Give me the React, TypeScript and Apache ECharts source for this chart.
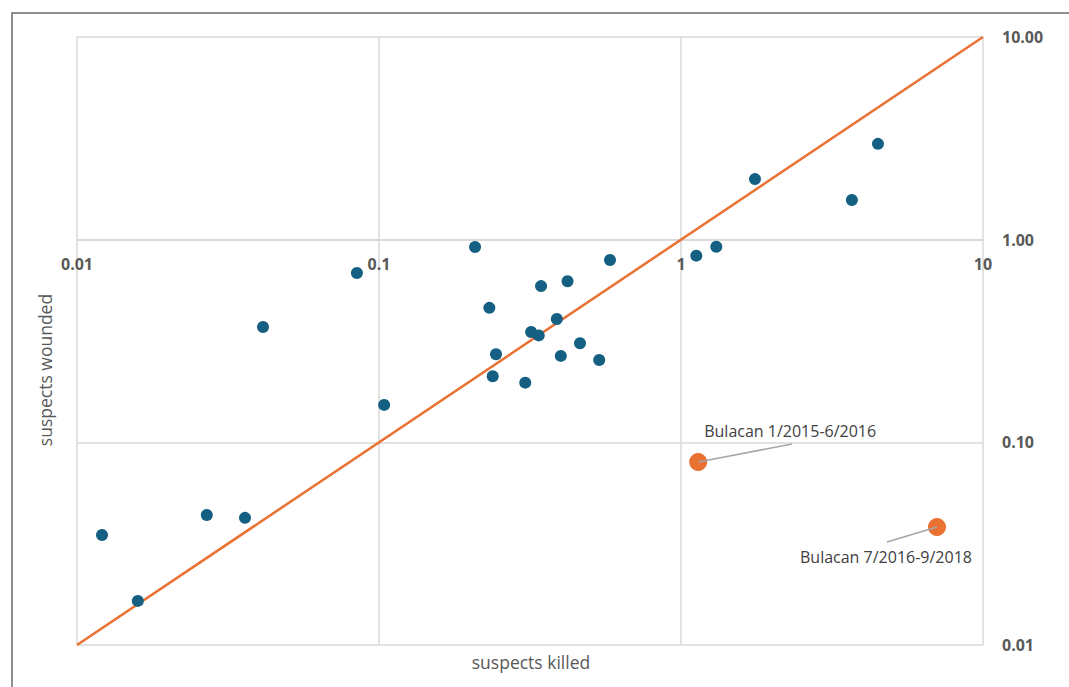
import React, { useEffect, useRef } from "react";
import * as echarts from "echarts";

// Suspects killed vs. wounded per 1,000 police operations (log–log)
const killed: number[] = [
  0.0121, 0.0159, 0.0269, 0.036, 0.0413, 0.0845, 0.104, 0.208, 0.232, 0.344,
  0.421, 0.582, 0.388, 0.319, 0.338, 0.463, 0.244, 0.4, 0.536, 0.238, 0.305,
  1.124, 1.309, 1.758, 3.68, 4.49,
];
const wounded: number[] = [
  0.0349, 0.0165, 0.0438, 0.0424, 0.371, 0.685, 0.153, 0.92, 0.461, 0.59,
  0.623, 0.794, 0.406, 0.35, 0.337, 0.308, 0.272, 0.267, 0.255, 0.212, 0.197,
  0.834, 0.923, 1.99, 1.57, 2.97,
];

const bulacanNames: string[] = ["Bulacan 1/2015-6/2016", "Bulacan 7/2016-9/2018"];
const bulacanKilled: number[] = [1.14, 7.04];
const bulacanWounded: number[] = [0.08, 0.0382];

// Parity line y = x
const parity: number[] = [0.01, 10];

const xTickLabels: string[] = ["0.01", "0.1", "1", "10"];
const yTickLabels: string[] = ["0.01", "0.10", "1.00", "10.00"];

const GRAY_TEXT = "#595959";
const GRID = "#d9d9d9";
const BLUE = "#156082";
const ORANGE = "#E97132";

// Call-out label offsets (px) from their points, and leader-line end offsets
const calloutOffsets: [number, number][] = [
  [92, -31],
  [-51, 30],
];
const leaderEnds: [number, number][] = [
  [94, -18],
  [-50, 15],
];

function tickText(list: string[], v: number): string {
  const e = Math.round(Math.log10(v)) + 2;
  return list[e] ?? "";
}

export default function App() {
  const ref = useRef<HTMLDivElement>(null);

  useEffect(() => {
    if (!ref.current) return;
    const chart = echarts.init(ref.current, undefined, { renderer: "svg" });

    const font = "'Open Sans', 'Noto Sans', sans-serif";

    const frameAndTitles: any[] = [
      {
        type: "polyline",
        silent: true,
        shape: {
          points: [
            [12, 687],
            [12, 13],
            [1069, 13],
          ],
        },
        style: { stroke: "#6b6b6b", lineWidth: 1.5, fill: "none" },
      },
      {
        type: "text",
        x: 531,
        y: 662,
        style: {
          text: "suspects killed",
          fill: GRAY_TEXT,
          font: `17.5px ${font}`,
          align: "center",
          verticalAlign: "middle",
        },
      },
      {
        type: "text",
        x: 45,
        y: 370,
        rotation: Math.PI / 2,
        style: {
          text: "suspects wounded",
          fill: GRAY_TEXT,
          font: `17.5px ${font}`,
          align: "center",
          verticalAlign: "middle",
        },
      },
    ];

    chart.setOption({
      animation: false,
      backgroundColor: "#ffffff",
      textStyle: { fontFamily: font },
      grid: { left: 77, right: 86, top: 37, bottom: 42, containLabel: false },
      xAxis: {
        type: "log",
        logBase: 10,
        min: 0.01,
        max: 10,
        position: "bottom",
        offset: -405,
        axisLine: { show: true, lineStyle: { color: GRID, width: 1.5 } },
        axisTick: { show: false },
        axisLabel: {
          margin: 16,
          color: GRAY_TEXT,
          fontWeight: "bold",
          fontSize: 16,
          fontFamily: font,
          formatter: (v: number) => tickText(xTickLabels, v),
        },
        splitLine: { show: true, lineStyle: { color: GRID, width: 1.5 } },
        minorSplitLine: { show: false },
      },
      yAxis: {
        type: "log",
        logBase: 10,
        min: 0.01,
        max: 10,
        position: "right",
        axisLine: { show: false },
        axisTick: { show: false },
        axisLabel: {
          margin: 19,
          color: GRAY_TEXT,
          fontWeight: "bold",
          fontSize: 16,
          fontFamily: font,
          formatter: (v: number) => tickText(yTickLabels, v),
        },
        splitLine: { show: true, lineStyle: { color: GRID, width: 1.5 } },
      },
      graphic: frameAndTitles,
      series: [
        {
          type: "line",
          data: parity.map((v) => [v, v]),
          symbol: "none",
          lineStyle: { color: ORANGE, width: 2.5 },
          z: 1,
        },
        {
          type: "scatter",
          data: killed.map((k, i) => [k, wounded[i]]),
          symbol: "circle",
          symbolSize: 12,
          itemStyle: { color: BLUE, opacity: 1 },
          z: 3,
        },
        {
          type: "scatter",
          data: bulacanKilled.map((k, i) => ({
            name: bulacanNames[i],
            value: [k, bulacanWounded[i]],
          })),
          symbol: "circle",
          symbolSize: 18,
          itemStyle: { color: ORANGE, opacity: 1 },
          label: {
            show: true,
            position: "inside",
            formatter: (p: any) => p.name,
            color: "#404040",
            fontSize: 16,
            fontFamily: font,
          },
          labelLayout: (p: any) => ({
            dx: calloutOffsets[p.dataIndex][0],
            dy: calloutOffsets[p.dataIndex][1],
          }),
          z: 4,
        },
      ],
    });

    // Leader lines from each Bulacan point towards its call-out label
    const leaders = bulacanKilled.map((k, i) => {
      const p = chart.convertToPixel({ seriesIndex: 2 }, [k, bulacanWounded[i]]) as number[];
      return {
        type: "line",
        silent: true,
        z: 100,
        shape: {
          x1: p[0],
          y1: p[1],
          x2: p[0] + leaderEnds[i][0],
          y2: p[1] + leaderEnds[i][1],
        },
        style: { stroke: "#a6a6a6", lineWidth: 1.5 },
      };
    });
    chart.setOption({ graphic: [...frameAndTitles, ...leaders] });

    return () => chart.dispose();
  }, []);

  return (
    <div
      ref={ref}
      style={{ position: "fixed", left: 0, top: 0, width: 1069, height: 687 }}
    />
  );
}
